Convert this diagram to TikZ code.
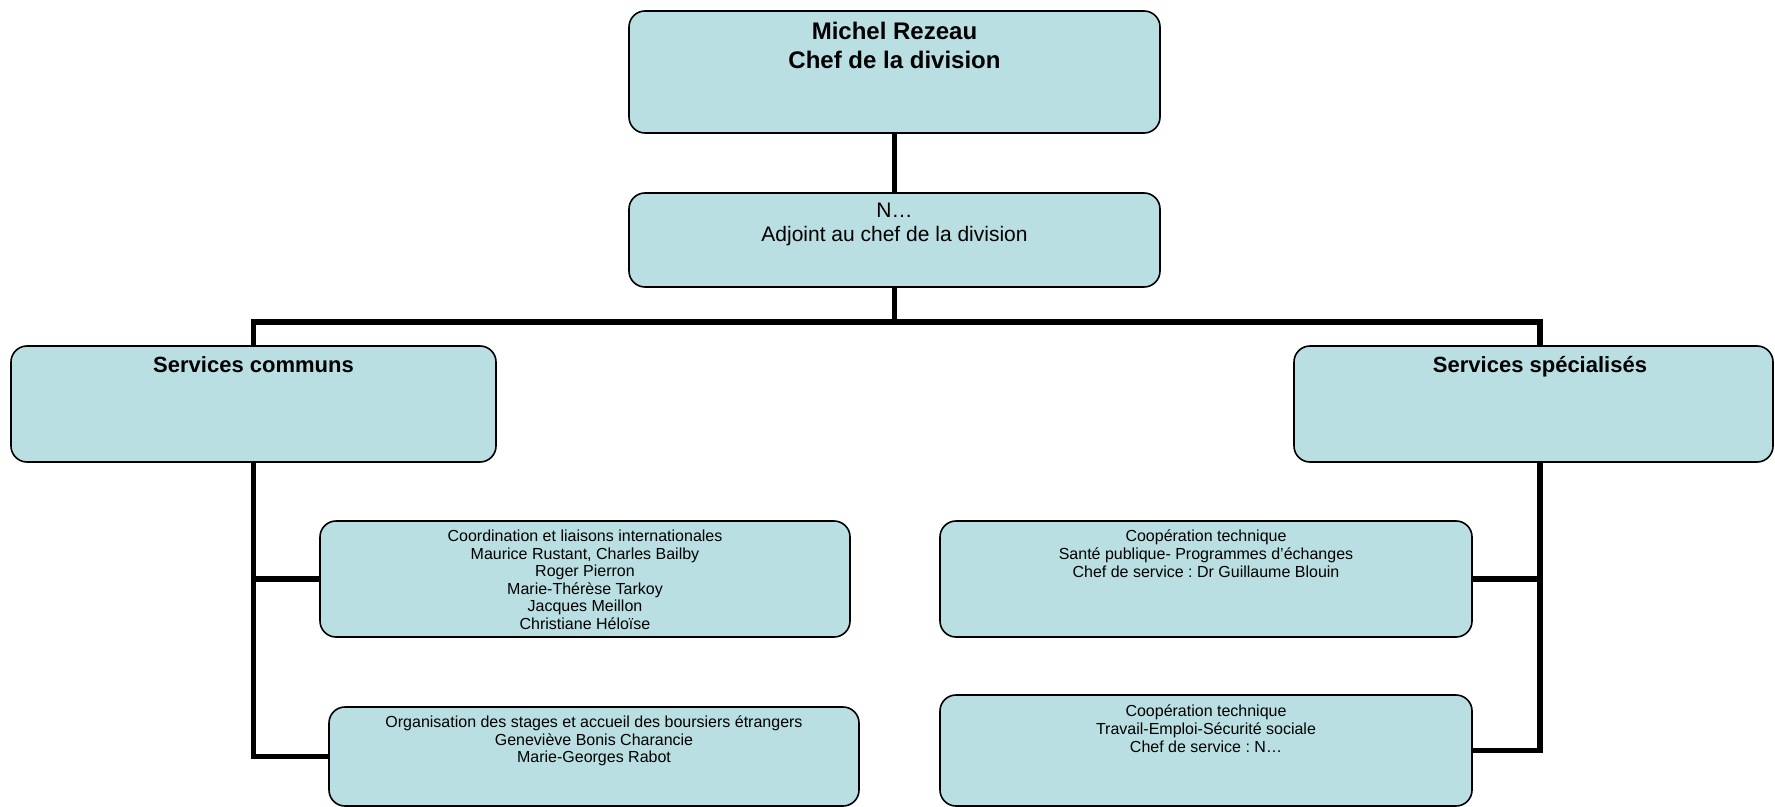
\documentclass[tikz,border=0pt]{standalone}
\usepackage{fontspec}
\setmainfont{Liberation Sans}
\frenchspacing
\usetikzlibrary{positioning}
\definecolor{BoxBlue}{HTML}{B9DFE2}
\definecolor{Ink}{HTML}{000000}

\begin{document}
\begin{tikzpicture}[x=0.5pt,y=-0.5pt,every node/.style={text=Ink},
  box/.style={draw=Ink,line width=0.8pt,fill=BoxBlue,rounded corners=8pt,inner sep=0pt},
  lien/.style={draw=Ink,line width=2.6pt,line join=miter},
  txt/.style={align=center,inner sep=0pt},
  titre/.style={txt,font=\bfseries\fontsize{12}{14.5}\selectfont},
  service/.style={txt,font=\bfseries\fontsize{11}{13}\selectfont},
  petit/.style={txt,font=\fontsize{8}{8.8}\selectfont}]
\useasboundingbox (0,0) rectangle (1775,807);
\clip (0,0) rectangle (1775,807);
% boxes, then connectors
\coordinate (busD) at (1540,322);
\node[box,minimum width=265.5pt,minimum height=61pt] (chef) at (894.5,72) {};
\node[box,minimum width=265.5pt,minimum height=47pt] (adj) at (894.5,240) {};
\node[box,minimum width=242.5pt,minimum height=58pt] (communs) at (253.5,404) {};
\node[box,minimum width=239.5pt,minimum height=58pt] (spec) at (1533.5,404) {};
\node[box,minimum width=265pt,minimum height=58pt] (coord) at (585,579) {};
\node[box,minimum width=265pt,minimum height=49.5pt] (stages) at (594,756.5) {};
\node[box,minimum width=266pt,minimum height=58pt] (coop1) at (1206,579) {};
\node[box,minimum width=266pt,minimum height=55.5pt] (coop2) at (1206,750.5) {};
\draw[lien] (chef.south) -- (adj.north);
\draw[lien] (adj.south) -- (adj.south |- busD);
\draw[lien] (communs.north) |- (busD) -- (busD |- spec.north);
\draw[lien] (communs.south) |- (stages.west);
\draw[lien] (communs.south |- coord.west) -- (coord.west);
\draw[lien] (busD |- spec.south) |- (coop2.east);
\draw[lien] (busD |- coop1.east) -- (coop1.east);
% texts
\node[titre,below=5.8pt of chef.north] (chefT) {Michel Rezeau\\Chef de la division};
\node[txt,font=\fontsize{10.5}{12}\selectfont,below=5pt of adj.north] (adjT) {N…\\Adjoint au chef de la division};
\node[service,below=5.6pt of communs.north] (communsT) {Services communs};
\node[service,below=5.6pt of spec.north -| busD] (specT) {Services spécialisés};
\node[petit,below=4.7pt of coord.north] (coordT) {Coordination et liaisons internationales\\Maurice Rustant, Charles Bailby\\Roger Pierron\\Marie-Thérèse Tarkoy\\Jacques Meillon\\Christiane Héloïse};
\node[petit,below=4.6pt of stages.north] (stagesT) {Organisation des stages et accueil des boursiers étrangers\\Geneviève Bonis Charancie\\Marie-Georges Rabot};
\node[petit,below=4.7pt of coop1.north,font=\fontsize{8}{9}\selectfont] (coop1T) {Coopération technique\\Santé publique- Programmes d’échanges\\Chef de service : Dr Guillaume Blouin};
\node[petit,below=5.2pt of coop2.north,font=\fontsize{8}{9}\selectfont] (coop2T) {Coopération technique\\Travail-Emploi-Sécurité sociale\\Chef de service : N…};
\end{tikzpicture}
\end{document}
